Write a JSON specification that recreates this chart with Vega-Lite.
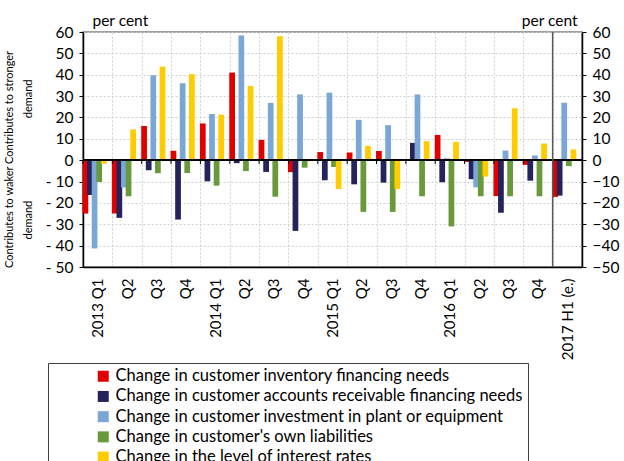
{
  "$schema": "https://vega.github.io/schema/vega-lite/v6.json",
  "width": 499,
  "height": 235,
  "autosize": {"type": "none"},
  "padding": {"left": 83, "top": 32, "right": 42, "bottom": 194},
  "background": "white",
  "config": {
    "font": "Lato",
    "view": {"stroke": "#808080", "strokeWidth": 1.5},
    "axis": {"labelColor": "#000", "titleColor": "#000"}
  },
  "datasets": {
    "main": [
      {"period": "2013 Q1", "series": "Change in customer inventory financing needs", "value": -25},
      {"period": "2013 Q1", "series": "Change in customer accounts receivable financing needs", "value": -16.3},
      {"period": "2013 Q1", "series": "Change in customer investment in plant or equipment", "value": -41.3},
      {"period": "2013 Q1", "series": "Change in customer's own liabilities", "value": -10.2},
      {"period": "2013 Q1", "series": "Change in the level of interest rates", "value": -1.7},
      {"period": "2013 Q2", "series": "Change in customer inventory financing needs", "value": -25},
      {"period": "2013 Q2", "series": "Change in customer accounts receivable financing needs", "value": -27},
      {"period": "2013 Q2", "series": "Change in customer investment in plant or equipment", "value": -12.8},
      {"period": "2013 Q2", "series": "Change in customer's own liabilities", "value": -16.9},
      {"period": "2013 Q2", "series": "Change in the level of interest rates", "value": 14.4},
      {"period": "2013 Q3", "series": "Change in customer inventory financing needs", "value": 16},
      {"period": "2013 Q3", "series": "Change in customer accounts receivable financing needs", "value": -4.7},
      {"period": "2013 Q3", "series": "Change in customer investment in plant or equipment", "value": 39.7},
      {"period": "2013 Q3", "series": "Change in customer's own liabilities", "value": -6.1},
      {"period": "2013 Q3", "series": "Change in the level of interest rates", "value": 43.8},
      {"period": "2013 Q4", "series": "Change in customer inventory financing needs", "value": 4.4},
      {"period": "2013 Q4", "series": "Change in customer accounts receivable financing needs", "value": -27.8},
      {"period": "2013 Q4", "series": "Change in customer investment in plant or equipment", "value": 36},
      {"period": "2013 Q4", "series": "Change in customer's own liabilities", "value": -6},
      {"period": "2013 Q4", "series": "Change in the level of interest rates", "value": 40.3},
      {"period": "2014 Q1", "series": "Change in customer inventory financing needs", "value": 17.2},
      {"period": "2014 Q1", "series": "Change in customer accounts receivable financing needs", "value": -9.9},
      {"period": "2014 Q1", "series": "Change in customer investment in plant or equipment", "value": 21.6},
      {"period": "2014 Q1", "series": "Change in customer's own liabilities", "value": -11.9},
      {"period": "2014 Q1", "series": "Change in the level of interest rates", "value": 21.3},
      {"period": "2014 Q2", "series": "Change in customer inventory financing needs", "value": 41},
      {"period": "2014 Q2", "series": "Change in customer accounts receivable financing needs", "value": -1.4},
      {"period": "2014 Q2", "series": "Change in customer investment in plant or equipment", "value": 58.4},
      {"period": "2014 Q2", "series": "Change in customer's own liabilities", "value": -5.1},
      {"period": "2014 Q2", "series": "Change in the level of interest rates", "value": 34.7},
      {"period": "2014 Q3", "series": "Change in customer inventory financing needs", "value": 9.5},
      {"period": "2014 Q3", "series": "Change in customer accounts receivable financing needs", "value": -5.5},
      {"period": "2014 Q3", "series": "Change in customer investment in plant or equipment", "value": 26.8},
      {"period": "2014 Q3", "series": "Change in customer's own liabilities", "value": -17.1},
      {"period": "2014 Q3", "series": "Change in the level of interest rates", "value": 58},
      {"period": "2014 Q4", "series": "Change in customer inventory financing needs", "value": -5.6},
      {"period": "2014 Q4", "series": "Change in customer accounts receivable financing needs", "value": -33.1},
      {"period": "2014 Q4", "series": "Change in customer investment in plant or equipment", "value": 30.8},
      {"period": "2014 Q4", "series": "Change in customer's own liabilities", "value": -3.5},
      {"period": "2014 Q4", "series": "Change in the level of interest rates", "value": -0.5},
      {"period": "2015 Q1", "series": "Change in customer inventory financing needs", "value": 3.8},
      {"period": "2015 Q1", "series": "Change in customer accounts receivable financing needs", "value": -9.4},
      {"period": "2015 Q1", "series": "Change in customer investment in plant or equipment", "value": 31.6},
      {"period": "2015 Q1", "series": "Change in customer's own liabilities", "value": -3.2},
      {"period": "2015 Q1", "series": "Change in the level of interest rates", "value": -13.5},
      {"period": "2015 Q2", "series": "Change in customer inventory financing needs", "value": 3.6},
      {"period": "2015 Q2", "series": "Change in customer accounts receivable financing needs", "value": -11.3},
      {"period": "2015 Q2", "series": "Change in customer investment in plant or equipment", "value": 18.9},
      {"period": "2015 Q2", "series": "Change in customer's own liabilities", "value": -24.2},
      {"period": "2015 Q2", "series": "Change in the level of interest rates", "value": 6.7},
      {"period": "2015 Q3", "series": "Change in customer inventory financing needs", "value": 4.3},
      {"period": "2015 Q3", "series": "Change in customer accounts receivable financing needs", "value": -10.5},
      {"period": "2015 Q3", "series": "Change in customer investment in plant or equipment", "value": 16.4},
      {"period": "2015 Q3", "series": "Change in customer's own liabilities", "value": -24.2},
      {"period": "2015 Q3", "series": "Change in the level of interest rates", "value": -13.5},
      {"period": "2015 Q4", "series": "Change in customer inventory financing needs", "value": 0.5},
      {"period": "2015 Q4", "series": "Change in customer accounts receivable financing needs", "value": 8.1},
      {"period": "2015 Q4", "series": "Change in customer investment in plant or equipment", "value": 30.8},
      {"period": "2015 Q4", "series": "Change in customer's own liabilities", "value": -16.9},
      {"period": "2015 Q4", "series": "Change in the level of interest rates", "value": 8.9},
      {"period": "2016 Q1", "series": "Change in customer inventory financing needs", "value": 11.8},
      {"period": "2016 Q1", "series": "Change in customer accounts receivable financing needs", "value": -10.3},
      {"period": "2016 Q1", "series": "Change in customer investment in plant or equipment", "value": 0.9},
      {"period": "2016 Q1", "series": "Change in customer's own liabilities", "value": -31},
      {"period": "2016 Q1", "series": "Change in the level of interest rates", "value": 8.6},
      {"period": "2016 Q2", "series": "Change in customer inventory financing needs", "value": -0.8},
      {"period": "2016 Q2", "series": "Change in customer accounts receivable financing needs", "value": -8.9},
      {"period": "2016 Q2", "series": "Change in customer investment in plant or equipment", "value": -12.7},
      {"period": "2016 Q2", "series": "Change in customer's own liabilities", "value": -16.9},
      {"period": "2016 Q2", "series": "Change in the level of interest rates", "value": -7.7},
      {"period": "2016 Q3", "series": "Change in customer inventory financing needs", "value": -16.8},
      {"period": "2016 Q3", "series": "Change in customer accounts receivable financing needs", "value": -24.6},
      {"period": "2016 Q3", "series": "Change in customer investment in plant or equipment", "value": 4.5},
      {"period": "2016 Q3", "series": "Change in customer's own liabilities", "value": -16.9},
      {"period": "2016 Q3", "series": "Change in the level of interest rates", "value": 24.3},
      {"period": "2016 Q4", "series": "Change in customer inventory financing needs", "value": -2.2},
      {"period": "2016 Q4", "series": "Change in customer accounts receivable financing needs", "value": -9.6},
      {"period": "2016 Q4", "series": "Change in customer investment in plant or equipment", "value": 2.2},
      {"period": "2016 Q4", "series": "Change in customer's own liabilities", "value": -16.9},
      {"period": "2016 Q4", "series": "Change in the level of interest rates", "value": 7.8},
      {"period": "2017 H1 (e.)", "series": "Change in customer inventory financing needs", "value": -17.2},
      {"period": "2017 H1 (e.)", "series": "Change in customer accounts receivable financing needs", "value": -16.6},
      {"period": "2017 H1 (e.)", "series": "Change in customer investment in plant or equipment", "value": 26.9},
      {"period": "2017 H1 (e.)", "series": "Change in customer's own liabilities", "value": -2.8},
      {"period": "2017 H1 (e.)", "series": "Change in the level of interest rates", "value": 5.0}
    ]
  },
  "data": {"name": "main"},
  "layer": [
    {
      "mark": {"type": "bar", "width": {"band": 1.25}},
      "encoding": {
        "x": {
          "field": "period", "type": "nominal", "sort": null,
          "scale": {"paddingInner": 0, "paddingOuter": 0},
          "axis": {
            "orient": "bottom",
            "title": null, "labelAngle": -90, "labelAlign": "right", "labelBaseline": "middle",
            "labelFontSize": 15, "labelPadding": 11, "ticks": false,
            "domainColor": "#000", "domainWidth": 1.5,
            "grid": true, "tickBand": "extent", "gridDash": [2, 2], "gridColor": "#cfcfcf",
            "labelExpr": "(indexof(datum.label, 'Q1') >= 0 || indexof(datum.label, 'H1') >= 0) ? datum.label : substring(datum.label, 5)"
          }
        },
        "xOffset": {"field": "series", "type": "nominal", "sort": null, "scale": {"paddingInner": 0, "paddingOuter": 0.69}},
        "y": {
          "field": "value", "type": "quantitative",
          "scale": {"domain": [-50, 60], "nice": false},
          "axis": {
            "orient": "left",
            "values": [-50, -40, -30, -20, -10, 0, 10, 20, 30, 40, 50, 60],
            "labelExpr": "datum.value < 0 ? '- ' + abs(datum.value) : datum.label",
            "labelFontSize": 15.5, "labelPadding": 6, "tickSize": 4, "tickColor": "#000",
            "domainColor": "#000", "domainWidth": 1.5,
            "grid": true, "gridDash": [2, 2], "gridColor": "#cfcfcf",
            "title": ["Contributes to waker Contributes  to stronger", "demand\u2003\u2003\u2003\u2003\u2003\u2003\u2003\u2003\u2003\u2003demand"],
            "titleFontSize": 11, "titleFontWeight": "normal", "titleAngle": -90,
            "titleAlign": "center", "titleBaseline": "alphabetic",
            "titleX": -71, "titleY": 127, "titleLineHeight": 19
          }
        },
        "color": {
          "field": "series", "type": "nominal", "sort": null,
          "scale": {
            "domain": [
              "Change in customer inventory financing needs",
              "Change in customer accounts receivable financing needs",
              "Change in customer investment in plant or equipment",
              "Change in customer's own liabilities",
              "Change in the level of interest rates"
            ],
            "range": ["#E00000", "#25235B", "#7BA7D7", "#68993A", "#FFCC00"]
          },
          "legend": {
            "orient": "none", "legendX": -35, "legendY": 331, "direction": "vertical",
            "title": "\u00a0", "titleOrient": "left", "titlePadding": 42,
            "strokeColor": "#404040", "fillColor": "#ffffff", "padding": 5,
            "symbolType": "square", "symbolSize": 121, "symbolStrokeWidth": 0,
            "labelFontSize": 16.5, "labelOffset": 4, "rowPadding": 3.2, "labelLimit": 800,
            "labelColor": "#000",
            "labelExpr": "datum.label + '\u2003\u2003'"
          }
        }
      }
    },
    {
      "mark": {"type": "rule", "color": "#000", "strokeWidth": 1},
      "encoding": {
        "y": {
          "datum": 0, "type": "quantitative",
          "axis": {
            "orient": "right",
            "values": [-50, -40, -30, -20, -10, 0, 10, 20, 30, 40, 50, 60],
            "labelFontSize": 15.5, "labelPadding": 6, "tickSize": 4, "tickColor": "#000",
            "domainColor": "#000", "domainWidth": 1.5, "grid": false,
            "title": "per cent", "titleAngle": 0, "titleAlign": "right", "titleBaseline": "alphabetic",
            "titleX": -5, "titleY": -7, "titleFontSize": 15.5, "titleFontWeight": "normal"
          }
        }
      }
    },
    {
      "transform": [{"filter": "datum.series === 'Change in customer inventory financing needs'"}],
      "mark": {"type": "rule", "color": "#000", "strokeWidth": 1},
      "encoding": {
        "x": {"field": "period", "type": "nominal", "sort": null, "bandPosition": 0, "axis": null},
        "y": {"datum": 0, "type": "quantitative", "axis": null},
        "y2": {"datum": -1.8}
      }
    },
    {
      "transform": [{"filter": "datum.period === '2017 H1 (e.)' && datum.series === 'Change in customer inventory financing needs'"}],
      "mark": {"type": "rule", "color": "#595959", "strokeWidth": 1.5},
      "encoding": {
        "x": {
          "field": "period", "type": "nominal", "sort": null, "bandPosition": 0,
          "axis": {
            "orient": "top", "labels": false, "ticks": false, "domain": false, "grid": false,
            "title": "per cent", "titleAnchor": "start", "titleAlign": "left", "titleAngle": 0,
            "titleBaseline": "alphabetic", "titleX": 9, "titleY": -7,
            "titleFontSize": 15.5, "titleFontWeight": "normal"
          }
        }
      }
    }
  ],
  "resolve": {"axis": {"y": "independent", "x": "independent"}}
}
